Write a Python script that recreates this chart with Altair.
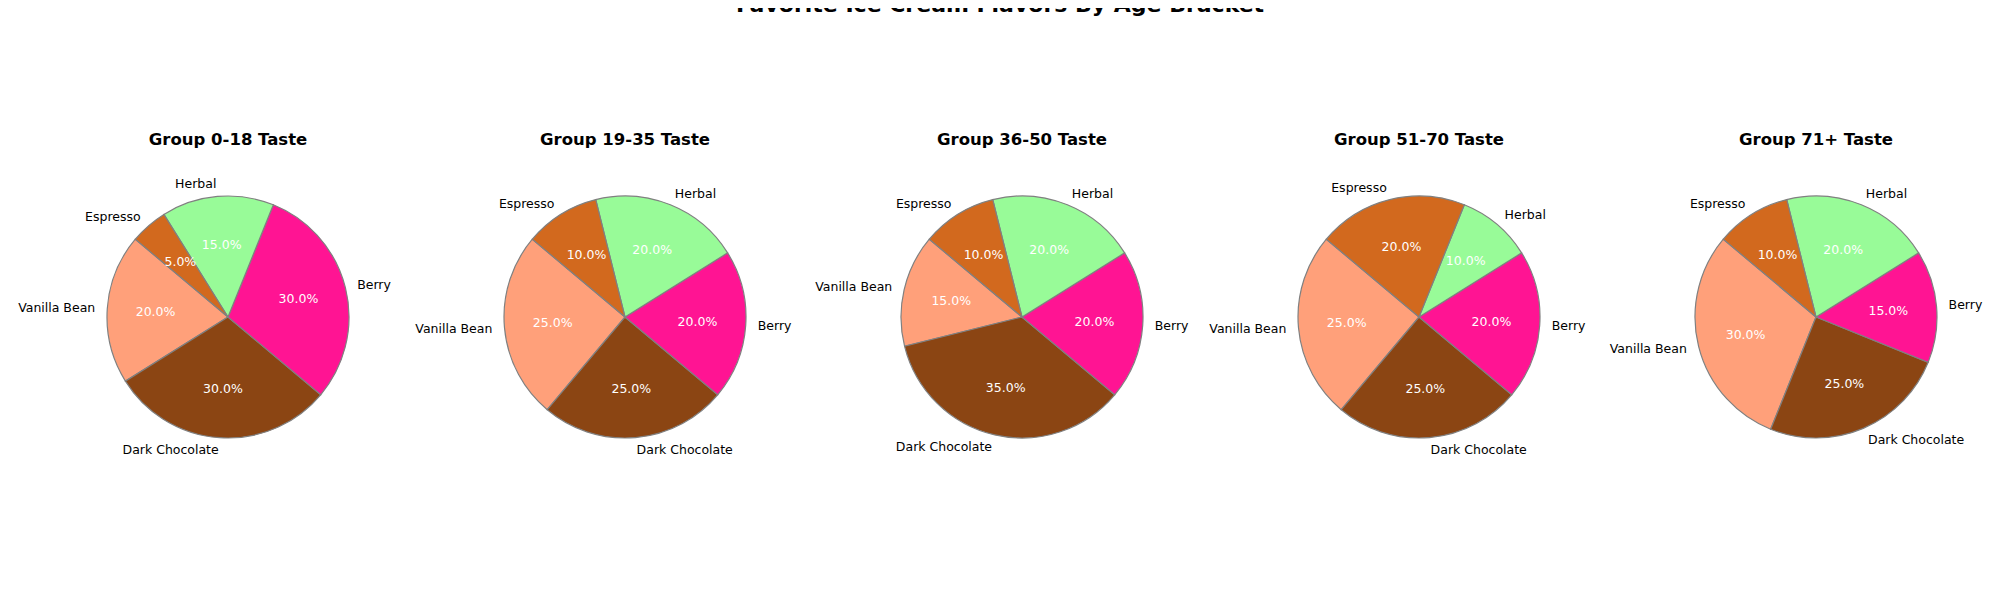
import math
import altair as alt
import pandas as pd

groups = ["0-18", "19-35", "36-50", "51-70", "71+"]
flavors = ["Vanilla Bean", "Dark Chocolate", "Berry", "Herbal", "Espresso"]
colors = ["#FFA07A", "#8B4513", "#FF1493", "#98FB98", "#D2691E"]

vanilla_bean = [20, 25, 15, 25, 30]
dark_chocolate = [30, 25, 35, 25, 25]
berry = [30, 20, 20, 20, 15]
herbal = [15, 20, 20, 10, 20]
espresso = [5, 10, 10, 20, 10]

main_title = "Favorite Ice Cream Flavors By Age Bracket"

series = [vanilla_bean, dark_chocolate, berry, herbal, espresso]
rows = []
for gi, g in enumerate(groups):
    for fi, f in enumerate(flavors):
        rows.append({"group": g, "flavor": f, "value": series[fi][gi],
                     "ord": len(flavors) - 1 - fi})
df = pd.DataFrame(rows)
titles_df = pd.DataFrame({"group": groups, "title": [f"Group {g} Taste" for g in groups]})
main_df = pd.DataFrame({"t": [main_title]})

A0 = math.radians(310)
theta_scale = alt.Scale(domain=[0, 100], range=[A0, A0 + 2 * math.pi])
x_scale = alt.Scale(type="point", domain=groups, range=[220, 1808], padding=0)
FONT = "DejaVu Sans"
CY = 309
R = 121

base = alt.Chart(df).transform_window(
    cum="sum(value)", sort=[alt.SortField("ord")], groupby=["group"],
    frame=[None, 0]
).transform_calculate(
    start="datum.cum - datum.value",
    end="datum.cum",
    mid="datum.cum - datum.value / 2",
    side=f"sin({A0} + (datum.cum - datum.value / 2) / 100 * 2 * PI)",
    pct="format(datum.value, '.1f') + '%'"
)

xenc = alt.X("group:N", scale=x_scale, axis=None)

arcs = base.mark_arc(outerRadius=R, stroke="#808080", strokeWidth=1.2).encode(
    x=xenc,
    y=alt.value(CY),
    theta=alt.Theta("start:Q", scale=theta_scale, stack=False),
    theta2="end:Q",
    color=alt.Color("flavor:N", scale=alt.Scale(domain=flavors, range=colors), legend=None),
)

pct = base.mark_text(radius=R * 0.6, font=FONT, fontSize=12.5, color="white",
                     baseline="middle", align="center").encode(
    x=xenc,
    y=alt.value(CY),
    theta=alt.Theta("mid:Q", scale=theta_scale, stack=False),
    text="pct:N",
)

labels_right = base.transform_filter("datum.side >= 0").mark_text(
    radius=R * 1.1, font=FONT, fontSize=12.5, color="black",
    baseline="middle", align="left").encode(
    x=xenc,
    y=alt.value(CY),
    theta=alt.Theta("mid:Q", scale=theta_scale, stack=False),
    text="flavor:N",
)

labels_left = base.transform_filter("datum.side < 0").mark_text(
    radius=R * 1.1, font=FONT, fontSize=12.5, color="black",
    baseline="middle", align="right").encode(
    x=xenc,
    y=alt.value(CY),
    theta=alt.Theta("mid:Q", scale=theta_scale, stack=False),
    text="flavor:N",
)

titles = alt.Chart(titles_df).mark_text(
    font=FONT, fontSize=16.5, fontWeight="bold", color="black",
    baseline="alphabetic", align="center").encode(
    x=xenc,
    y=alt.value(137),
    text="title:N",
)

main = alt.Chart(main_df).mark_text(
    font=FONT, fontSize=22, fontWeight="bold", color="black",
    baseline="alphabetic", align="center").encode(
    x=alt.value(992),
    y=alt.value(4),
    text="t:N",
)

chart = alt.layer(arcs, pct, labels_left, labels_right, titles, main).properties(
    width=1984, height=584,
    autosize=alt.AutoSizeParams(type="none"),
    padding=0,
    background="white",
).configure_view(stroke="transparent")

chart.save("out.html", embed_options={"renderer": "svg", "actions": False})
